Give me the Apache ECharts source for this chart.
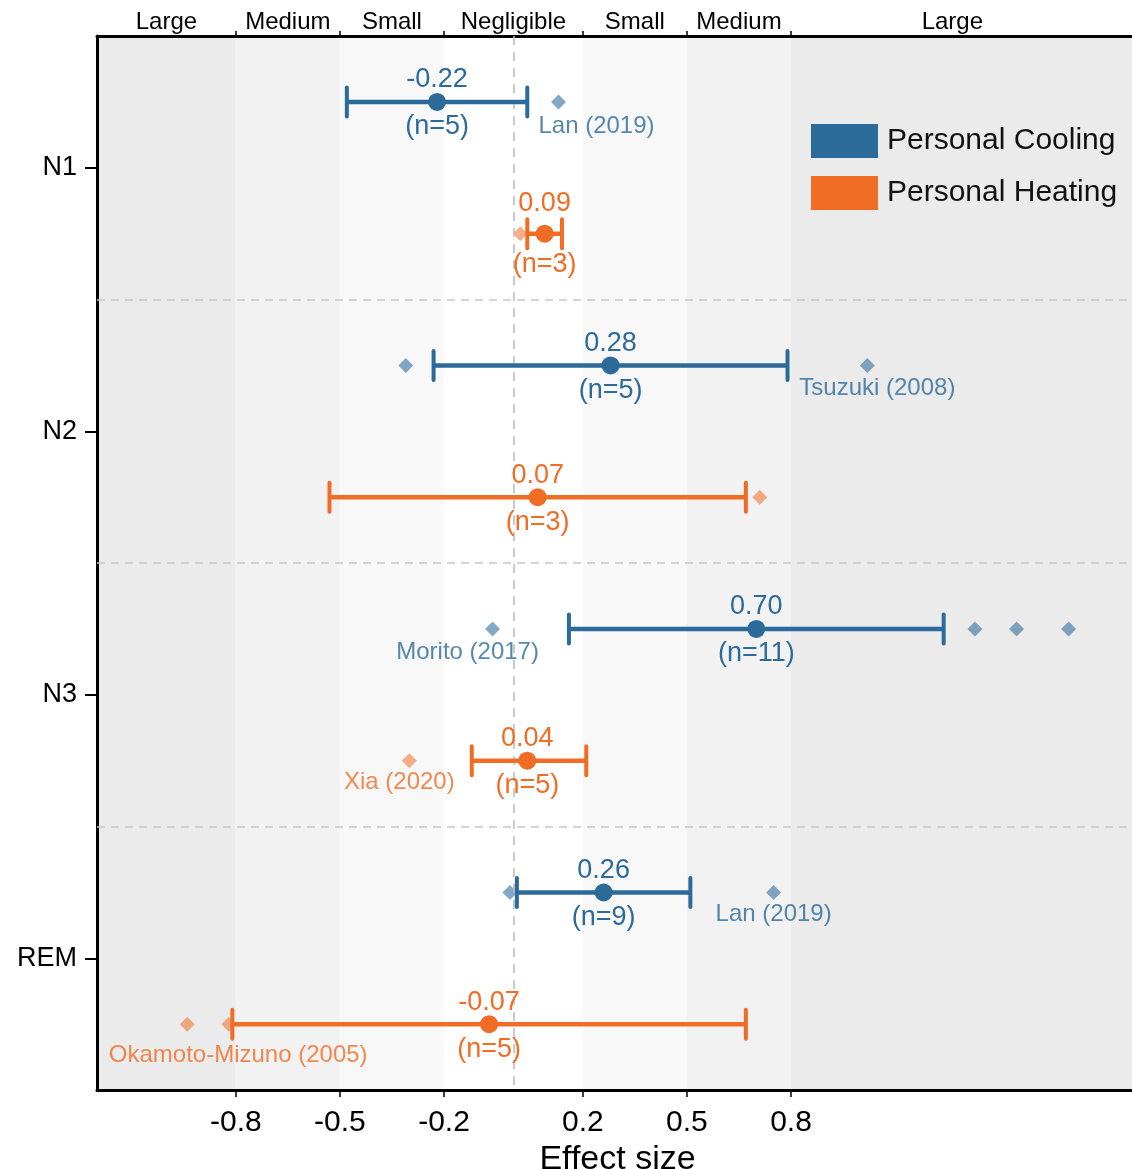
<!DOCTYPE html>
<html>
<head>
<meta charset="utf-8">
<title>Effect size by sleep stage</title>
<script src="https://cdn.jsdelivr.net/npm/echarts@6/dist/echarts.min.js"></script>
<style>
  html, body { margin: 0; padding: 0; background: #ffffff; }
  #chart { width: 1132px; height: 1169px; }
</style>
</head>
<body>
<div id="chart"></div>
<script>
// Sleep stages on the vertical axis
const stages = ['N1', 'N2', 'N3', 'REM'];
const groupNames = ['Personal Cooling', 'Personal Heating'];

// Pooled effect size, 95% interval and number of studies per stage
const coolingMean = [-0.22, 0.28, 0.70, 0.26];
const coolingLow  = [-0.48, -0.23, 0.16, 0.01];
const coolingHigh = [0.04, 0.79, 1.24, 0.51];
const coolingN    = [5, 5, 11, 9];

const heatingMean = [0.09, 0.07, 0.04, -0.07];
const heatingLow  = [0.04, -0.53, -0.12, -0.81];
const heatingHigh = [0.14, 0.67, 0.21, 0.67];
const heatingN    = [3, 3, 5, 5];

// Individual studies lying outside the pooled interval: [stage, effect size]
const coolingOutliers = [
  ['N1', 0.13], ['N2', -0.31], ['N2', 1.02], ['N3', -0.06],
  ['N3', 1.33], ['N3', 1.45], ['N3', 1.60], ['REM', -0.01], ['REM', 0.75]
];
const heatingOutliers = [
  ['N1', 0.02], ['N2', 0.71], ['N3', -0.30], ['REM', -0.94], ['REM', -0.82]
];

// Named studies: [stage, effect size, citation]
const coolingStudies = [
  ['N1', 0.13, 'Lan (2019)'], ['N2', 1.02, 'Tsuzuki (2008)'],
  ['N3', -0.06, 'Morito (2017)'], ['REM', 0.75, 'Lan (2019)']
];
const heatingStudies = [
  ['N3', -0.30, 'Xia (2020)'], ['REM', -0.94, 'Okamoto-Mizuno (2005)']
];

// Cohen's thresholds and the magnitude bands between them
const thresholds = [-0.8, -0.5, -0.2, 0.2, 0.5, 0.8];
const bandNames = ['Large', 'Medium', 'Small', 'Negligible', 'Small', 'Medium', 'Large'];
const bandLabelAt = [-1.0, -0.65, -0.35, 0, 0.35, 0.65, 1.265];

const X_MIN = -1.2, X_MAX = 1.8;

// ---- layout / styling ----
const FONT = '"Liberation Sans", Arial, Helvetica, sans-serif';
const COOL = '#2C6A9A';
const HEAT = '#F16C24';
const COOL_LIGHT = 'rgba(44,106,154,0.72)';
const HEAT_LIGHT = 'rgba(241,108,36,0.68)';
const bandShades = ['#EBEBEB', '#F2F2F2', '#F8F8F8', '#FFFFFF', '#F8F8F8', '#F2F2F2', '#EBEBEB'];
// extra upward shift (px) for crowded value labels, per stage
const coolingLabelLift = [0, 0, 0, 0];
const heatingLabelLift = [8, 0, 0, 0];
// citation text offsets from its diamond (px)
const studyLabelOffset = {
  'N1|0.13': [38, 24], 'N2|1.02': [10, 23], 'N3|-0.06': [-25, 23],
  'REM|0.75': [0, 22], 'N3|-0.3': [-10, 22], 'REM|-0.94': [51, 31]
};

const stageY = s => stages.indexOf(s) + 1;
const OFFSET = 0.25;

function ciRows(mean, low, high, n, lift, shift) {
  return stages.map((s, i) => [i + 1 + shift, low[i], high[i], mean[i], n[i], lift[i]]);
}

function outlierRows(list, studies, shift, color) {
  return list.map(([s, v]) => {
    const item = { value: [v, stageY(s) + shift] };
    const st = studies.find(r => r[0] === s && r[1] === v);
    if (st) {
      item.label = {
        show: true,
        formatter: st[2],
        position: 'inside',
        offset: studyLabelOffset[s + '|' + v] || [0, 22],
        color: color,
        fontSize: 24,
        fontFamily: FONT
      };
    }
    return item;
  });
}

const bandRows = bandNames.map((name, i) => [
  i === 0 ? X_MIN : thresholds[i - 1],
  i === bandNames.length - 1 ? X_MAX : thresholds[i],
  i
]);

function renderBand(params, api) {
  const cs = params.coordSys;
  const a = api.coord([api.value(0), 1]);
  const b = api.coord([api.value(1), 1]);
  return {
    type: 'rect',
    shape: { x: a[0], y: cs.y, width: b[0] - a[0], height: cs.height },
    style: { fill: bandShades[api.value(2)] }
  };
}

function renderCI(params, api) {
  const y = api.value(0);
  const lo = api.coord([api.value(1), y]);
  const hi = api.coord([api.value(2), y]);
  const mid = api.coord([api.value(3), y]);
  const mean = api.value(3);
  const n = api.value(4);
  const lift = api.value(5);
  const color = api.visual('color');
  const cap = 14.5;
  const txt = (t, yy) => ({
    type: 'text',
    x: mid[0], y: yy,
    style: {
      text: t, fill: color, fontSize: 27, fontFamily: FONT,
      align: 'center', verticalAlign: 'middle'
    }
  });
  return {
    type: 'group',
    children: [
      { type: 'line', shape: { x1: lo[0], y1: lo[1], x2: hi[0], y2: hi[1] },
        style: { stroke: color, lineWidth: 4.5 } },
      { type: 'line', shape: { x1: lo[0], y1: lo[1] - cap, x2: lo[0], y2: lo[1] + cap },
        style: { stroke: color, lineWidth: 4, lineCap: 'round' } },
      { type: 'line', shape: { x1: hi[0], y1: hi[1] - cap, x2: hi[0], y2: hi[1] + cap },
        style: { stroke: color, lineWidth: 4, lineCap: 'round' } },
      { type: 'circle', shape: { cx: mid[0], cy: mid[1], r: 9 },
        style: { fill: color } },
      txt(mean.toFixed(2), mid[1] - 22 - lift),
      txt('(n=' + n + ')', mid[1] + 25 + lift * 0.8)
    ]
  };
}

const chart = echarts.init(document.getElementById('chart'), null, { renderer: 'canvas' });

const option = {
  backgroundColor: '#ffffff',
  animation: false,
  textStyle: { fontFamily: FONT },
  grid: { left: 97, top: 36, width: 1041, height: 1054, containLabel: false, outerBoundsMode: 'none' },
  legend: {
    data: groupNames,
    orient: 'vertical',
    left: 811, top: 124,
    itemWidth: 67, itemHeight: 34, itemGap: 18,
    icon: 'rect',
    padding: 0,
    textStyle: { fontSize: 30, color: '#111', fontFamily: FONT, padding: [0, 0, 0, 4] }
  },
  xAxis: [
    {
      type: 'value', position: 'bottom', min: X_MIN, max: X_MAX,
      name: 'Effect size', nameLocation: 'middle', nameGap: 48,
      nameTextStyle: { fontSize: 34, color: '#000', fontFamily: FONT },
      axisLine: { show: true, onZero: false, lineStyle: { color: '#000', width: 3 } },
      axisTick: { show: true, customValues: thresholds, length: 7, lineStyle: { color: '#000', width: 1.5 } },
      axisLabel: {
        customValues: thresholds, margin: 18, fontSize: 30, color: '#000',
        formatter: v => String(v)
      },
      splitLine: { show: false }
    },
    {
      type: 'value', position: 'top', min: X_MIN, max: X_MAX,
      axisLine: { show: true, onZero: false, lineStyle: { color: '#000', width: 3 } },
      axisTick: { show: true, customValues: thresholds, length: 5, lineStyle: { color: '#000', width: 1.5 } },
      axisLabel: {
        customValues: bandLabelAt, margin: 2, fontSize: 24, color: '#000',
        formatter: v => {
          let best = 0;
          bandLabelAt.forEach((p, i) => { if (Math.abs(p - v) < Math.abs(bandLabelAt[best] - v)) best = i; });
          return bandNames[best];
        }
      },
      splitLine: { show: false }
    }
  ],
  yAxis: {
    type: 'value', min: 0.5, max: 4.5, inverse: true, position: 'left',
    axisLine: { show: true, onZero: false, lineStyle: { color: '#000', width: 3 } },
    axisTick: { show: true, customValues: [1, 2, 3, 4], length: 12, lineStyle: { color: '#000', width: 2 } },
    axisLabel: {
      customValues: [1, 2, 3, 4], margin: 20, fontSize: 27, color: '#000',
      formatter: v => stages[Math.round(v) - 1] || ''
    },
    splitLine: { show: false }
  },
  series: [
    {
      name: 'bands', type: 'custom', z: 0, silent: true,
      renderItem: renderBand, data: bandRows,
      encode: { x: [0, 1] },
      markLine: {
        silent: true, symbol: 'none', label: { show: false },
        data: [
          { xAxis: 0, lineStyle: { color: '#BDBDBD', width: 1.6, type: [9, 7] } },
          { yAxis: 1.5, lineStyle: { color: '#C8C8C8', width: 1.6, type: [8, 6] } },
          { yAxis: 2.5, lineStyle: { color: '#C8C8C8', width: 1.6, type: [8, 6] } },
          { yAxis: 3.5, lineStyle: { color: '#C8C8C8', width: 1.6, type: [8, 6] } }
        ]
      }
    },
    {
      name: 'cooling studies', type: 'scatter', z: 3, silent: true,
      symbol: 'diamond', symbolSize: [15, 15],
      itemStyle: { color: COOL_LIGHT },
      data: outlierRows(coolingOutliers, coolingStudies, -OFFSET, COOL)
    },
    {
      name: 'heating studies', type: 'scatter', z: 3, silent: true,
      symbol: 'diamond', symbolSize: [15, 15],
      itemStyle: { color: HEAT_LIGHT },
      data: outlierRows(heatingOutliers, heatingStudies, OFFSET, HEAT)
    },
    {
      name: groupNames[0], type: 'custom', z: 5, silent: true,
      itemStyle: { color: COOL },
      renderItem: renderCI,
      encode: { x: [1, 2, 3], y: 0 },
      data: ciRows(coolingMean, coolingLow, coolingHigh, coolingN, coolingLabelLift, -OFFSET)
    },
    {
      name: groupNames[1], type: 'custom', z: 5, silent: true,
      itemStyle: { color: HEAT },
      renderItem: renderCI,
      encode: { x: [1, 2, 3], y: 0 },
      data: ciRows(heatingMean, heatingLow, heatingHigh, heatingN, heatingLabelLift, OFFSET)
    }
  ]
};

chart.setOption(option);
</script>
</body>
</html>
